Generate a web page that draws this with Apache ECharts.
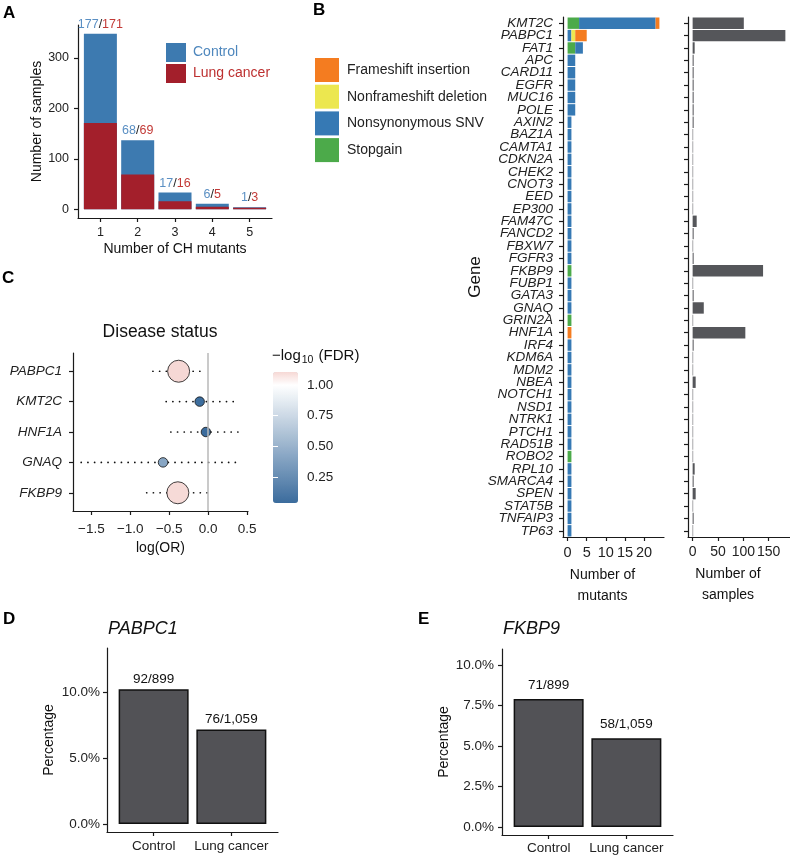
<!DOCTYPE html>
<html>
<head>
<meta charset="utf-8">
<script src="https://cdn.jsdelivr.net/npm/echarts@6/dist/echarts.min.js"></script>
<style>
html, body { margin: 0; padding: 0; background: #fff; }
#container { width: 790px; height: 857px; }
</style>
</head>
<body>
<div id="container"></div>
<script>
// ---- A: samples by number of CH mutants
var mutantCounts = [1, 2, 3, 4, 5];
var controlSamples = [177, 68, 17, 6, 1];
var cancerSamples = [171, 69, 16, 5, 3];
var aTicks = [0, 100, 200, 300];

// ---- B: mutants per gene (by type) and samples per gene
var genes = ['KMT2C', 'PABPC1', 'FAT1', 'APC', 'CARD11', 'EGFR', 'MUC16', 'POLE', 'AXIN2', 'BAZ1A',
    'CAMTA1', 'CDKN2A', 'CHEK2', 'CNOT3', 'EED', 'EP300', 'FAM47C', 'FANCD2', 'FBXW7', 'FGFR3',
    'FKBP9', 'FUBP1', 'GATA3', 'GNAQ', 'GRIN2A', 'HNF1A', 'IRF4', 'KDM6A', 'MDM2', 'NBEA',
    'NOTCH1', 'NSD1', 'NTRK1', 'PTCH1', 'RAD51B', 'ROBO2', 'RPL10', 'SMARCA4', 'SPEN', 'STAT5B',
    'TNFAIP3', 'TP63'];
var stopgain = [3, 0, 2, 0, 0, 0, 0, 0, 0, 0,
    0, 0, 0, 0, 0, 0, 0, 0, 0, 0,
    1, 0, 0, 0, 1, 0, 0, 0, 0, 0,
    0, 0, 0, 0, 0, 1, 0, 0, 0, 0,
    0, 0];
var nonsynSNV = [20, 1, 2, 2, 2, 2, 2, 2, 1, 1,
    1, 1, 1, 1, 1, 1, 1, 1, 1, 1,
    0, 1, 1, 1, 0, 0, 1, 1, 1, 1,
    1, 1, 1, 1, 1, 0, 1, 1, 1, 1,
    1, 1];
var nonframeDel = [0, 1, 0, 0, 0, 0, 0, 0, 0, 0,
    0, 0, 0, 0, 0, 0, 0, 0, 0, 0,
    0, 0, 0, 0, 0, 0, 0, 0, 0, 0,
    0, 0, 0, 0, 0, 0, 0, 0, 0, 0,
    0, 0];
var frameIns = [1, 3, 0, 0, 0, 0, 0, 0, 0, 0,
    0, 0, 0, 0, 0, 0, 0, 0, 0, 0,
    0, 0, 0, 0, 0, 1, 0, 0, 0, 0,
    0, 0, 0, 0, 0, 0, 0, 0, 0, 0,
    0, 0];
var geneSamples = [101, 183, 4, 2, 2, 2, 2, 2, 2, 1,
    1, 1, 1, 1, 1, 1, 8, 2, 1, 2,
    139, 1, 2, 22, 1, 104, 2, 1, 1, 6,
    1, 1, 1, 1, 1, 1, 4, 2, 6, 1,
    2, 1];
var mutantTicks = [0, 5, 10, 15, 20];
var sampleTicks = [0, 50, 100, 150];

// ---- C: disease status association
var orGenes = ['PABPC1', 'KMT2C', 'HNF1A', 'GNAQ', 'FKBP9'];
var logOR = [-0.38, -0.11, -0.03, -0.58, -0.39];
var ciLow = [-0.71, -0.54, -0.48, -1.63, -0.79];
var ciHigh = [-0.03, 0.355, 0.41, 0.42, 0.01];
var negLogFdr = [1.105, 0.05, 0.04, 0.42, 1.1];
var orTicks = [-1.5, -1, -0.5, 0, 0.5];
var fdrTicks = [0.25, 0.5, 0.75, 1];

// ---- D / E: carrier percentage
var groups = ['Control', 'Lung cancer'];
var groupTotals = [899, 1059];
var pabpc1Carriers = [92, 76];
var fkbp9Carriers = [71, 58];
var pabpc1P = '0.016';
var fkbp9P = '0.031';
var dTicks = [0, 5, 10];
var eTicks = [0, 2.5, 5, 7.5, 10];

var FONT = '"Liberation Sans", Arial, sans-serif';
var INK = '#1a1a1a';

var dom = document.getElementById('container');
var myChart = echarts.init(dom, null, { renderer: 'canvas' });

function axis(type, grid, min, max, ticks, labelMargin, fmt) {
    var a = {
        type: type,
        gridIndex: grid,
        splitLine: { show: false },
        axisLine: { show: true, onZero: false, lineStyle: { color: INK, width: 1.2 } },
        axisTick: { show: true, length: 4, lineStyle: { color: INK, width: 1.2 } },
        axisLabel: { margin: labelMargin, fontSize: 13.5, color: '#222', fontFamily: FONT },
        nameLocation: 'middle',
        nameTextStyle: { fontSize: 14, color: '#111', fontFamily: FONT }
    };
    if (type === 'value') {
        a.min = min;
        a.max = max;
        a.axisTick.customValues = ticks;
        a.axisLabel.customValues = ticks;
    }
    if (fmt) a.axisLabel.formatter = fmt;
    return a;
}

function pct(carriers) {
    return carriers.map(function (c, i) { return [i + 1, c / groupTotals[i] * 100]; });
}
function fracLabel(carriers) {
    return function (p) {
        return carriers[p.dataIndex] + '/' + groupTotals[p.dataIndex].toLocaleString('en-US');
    };
}
function pctFmt(v) { return v.toFixed(1) + '%'; }
function groupFmt(v) { return groups[v - 1] || ''; }
function maxPct(carriers) {
    return Math.max.apply(null, pct(carriers).map(function (d) { return d[1]; }));
}

var panelLetter = { fontSize: 17, fontWeight: 'bold', color: '#000', fontFamily: FONT };

var xAxes = [];
var yAxes = [];

// A
var xa = axis('value', 0, 0.4, 5.6, mutantCounts, 8);
xa.axisLabel.fontSize = 12.5;
xa.name = 'Number of CH mutants';
xa.nameGap = 24;
xAxes.push(xa);
var ya = axis('value', 0, -17.4, 365.4, aTicks, 9);
ya.axisLabel.fontSize = 12.5;
ya.name = 'Number of samples';
ya.nameGap = 28;
yAxes.push(ya);

// B left
var xb1 = axis('value', 1, -1.2, 25.2, mutantTicks, 8);
xb1.axisLabel.fontSize = 14.5;
xb1.name = 'Number of\nmutants';
xb1.nameGap = 27;
xb1.nameTextStyle.lineHeight = 21;
xb1.nameTextStyle.padding = [0, 22, 0, 0];
xAxes.push(xb1);
var yb1 = axis('category', 1);
yb1.data = genes;
yb1.inverse = true;
yb1.axisTick.alignWithLabel = true;
yb1.axisTick.interval = 0;
yb1.axisLabel.interval = 0;
yb1.axisLabel.fontStyle = 'italic';
yb1.axisLabel.margin = 10;
yb1.name = 'Gene';
yb1.nameGap = 75;
yb1.nameTextStyle.fontSize = 17;
yAxes.push(yb1);

// B right
var xb2 = axis('value', 2, -9.15, 192.15, sampleTicks, 8);
xb2.axisLabel.fontSize = 14;
xb2.name = 'Number of\nsamples';
xb2.nameGap = 27;
xb2.nameTextStyle.lineHeight = 21;
xb2.nameTextStyle.padding = [0, 22, 0, 0];
xAxes.push(xb2);
var yb2 = axis('category', 2);
yb2.data = genes;
yb2.inverse = true;
yb2.axisTick.alignWithLabel = true;
yb2.axisTick.interval = 0;
yb2.axisLabel.show = false;
yAxes.push(yb2);

// C
var xc = axis('value', 3, -1.735, 0.51, orTicks, 11, function (v) {
    return (v < 0 ? '\u2212' : '') + Math.abs(v).toFixed(1);
});
xc.name = 'log(OR)';
xc.nameGap = 30;
xAxes.push(xc);
var yc = axis('value', 3, 0.4, 5.6, [1, 2, 3, 4, 5], 11, function (v) { return orGenes[v - 1] || ''; });
yc.inverse = true;
yc.axisLabel.fontStyle = 'italic';
yAxes.push(yc);

// colour bar axis (grid 4)
xAxes.push({ type: 'value', gridIndex: 4, min: 0, max: 1, show: false });
yAxes.push({
    type: 'value', gridIndex: 4, position: 'right', min: 0.04, max: 1.105, z: 10,
    splitLine: { show: false },
    axisLine: { show: false },
    axisTick: { show: true, inside: true, length: 5, customValues: fdrTicks, lineStyle: { color: '#fff', width: 1 } },
    axisLabel: { customValues: fdrTicks, margin: 9, fontSize: 13.5, color: '#222', fontFamily: FONT,
        formatter: function (v) { return v.toFixed(2); } }
});
yAxes.push({
    type: 'value', gridIndex: 4, position: 'left', min: 0.04, max: 1.105, z: 10,
    splitLine: { show: false },
    axisLine: { show: false },
    axisTick: { show: true, inside: true, length: 5, customValues: fdrTicks, lineStyle: { color: '#fff', width: 1 } },
    axisLabel: { show: false }
});

// D
var xd = axis('value', 5, 0.4, 2.6, [1, 2], 7, groupFmt);
xAxes.push(xd);
var yd = axis('value', 5, -0.607, 13.36, dTicks, 7, pctFmt);
yd.name = 'Percentage';
yd.nameGap = 51;
yAxes.push(yd);

// E
var xe = axis('value', 6, 0.4, 2.6, [1, 2], 6, groupFmt);
xAxes.push(xe);
var ye = axis('value', 6, -0.5, 10.98, eTicks, 8, pctFmt);
ye.name = 'Percentage';
ye.nameGap = 51;
yAxes.push(ye);

var mutTypes = [
    { name: 'Stopgain', data: stopgain, color: '#4caa4a' },
    { name: 'Nonsynonymous SNV', data: nonsynSNV, color: '#3679b4' },
    { name: 'Nonframeshift deletion', data: nonframeDel, color: '#ece74f' },
    { name: 'Frameshift insertion', data: frameIns, color: '#f47c20' }
];

var series = [];

// A bars: total (control on top) with lung cancer overlaid at the bottom
series.push({
    name: 'Control', type: 'bar', xAxisIndex: 0, yAxisIndex: 0,
    barWidth: 33,
    itemStyle: { color: '#3d7ab0' },
    data: mutantCounts.map(function (m, i) { return [m, controlSamples[i] + cancerSamples[i]]; }),
    label: {
        show: true, position: 'top', distance: 3, fontSize: 12.5, fontFamily: FONT,
        formatter: function (p) {
            return '{c|' + controlSamples[p.dataIndex] + '}{s|/}{r|' + cancerSamples[p.dataIndex] + '}';
        },
        rich: {
            c: { color: '#5a8fc3', fontSize: 12.5, fontFamily: FONT },
            s: { color: '#222', fontSize: 12.5, fontFamily: FONT },
            r: { color: '#c33a37', fontSize: 12.5, fontFamily: FONT }
        }
    }
});
series.push({
    name: 'Lung cancer', type: 'bar', xAxisIndex: 0, yAxisIndex: 0,
    barWidth: 33, barGap: '-100%',
    itemStyle: { color: '#a31f2b' },
    data: mutantCounts.map(function (m, i) { return [m, cancerSamples[i]]; })
});

// B left: stacked mutant types
mutTypes.forEach(function (t) {
    series.push({
        name: t.name, type: 'bar', stack: 'mut', xAxisIndex: 1, yAxisIndex: 1,
        barCategoryGap: '8%',
        itemStyle: { color: t.color },
        data: t.data
    });
});

// B right: samples
series.push({
    name: 'samples', type: 'bar', xAxisIndex: 2, yAxisIndex: 2,
    barCategoryGap: '8%',
    itemStyle: { color: '#55565a' },
    data: geneSamples
});

// C: confidence intervals as dotted lines
series.push({
    name: 'ci', type: 'custom', xAxisIndex: 3, yAxisIndex: 3,
    data: orGenes.map(function (g, i) { return [i + 1, ciLow[i], ciHigh[i]]; }),
    encode: { x: [1, 2], y: 0 },
    renderItem: function (params, api) {
        var p1 = api.coord([api.value(1), api.value(0)]);
        var p2 = api.coord([api.value(2), api.value(0)]);
        return {
            type: 'line',
            shape: { x1: p1[0], y1: p1[1], x2: p2[0], y2: p2[1] },
            style: { stroke: '#111', lineWidth: 1.7, lineDash: [0.1, 6.6], lineCap: 'round' }
        };
    },
    markLine: {
        silent: true, symbol: 'none', label: { show: false },
        lineStyle: { color: '#b8b8b8', width: 1.5, type: 'solid' },
        data: [{ xAxis: 0 }]
    }
});
var scatterIndex = series.length;
series.push({
    name: 'or', type: 'scatter', xAxisIndex: 3, yAxisIndex: 3,
    data: orGenes.map(function (g, i) { return [logOR[i], i + 1, negLogFdr[i]]; }),
    symbolSize: function (v) { return v[2] > 1 ? 22 : 9.5; },
    itemStyle: { borderColor: '#111', borderWidth: 0.8, opacity: 1 }
});

// D and E
function pctPanel(axisIdx, carriers, pText, labelDist) {
    series.push({
        name: 'pct' + axisIdx, type: 'bar', xAxisIndex: axisIdx, yAxisIndex: axisIdx + 1,
        barWidth: 70,
        itemStyle: { color: '#525256', borderColor: '#111', borderWidth: 1.5 },
        data: pct(carriers),
        label: {
            show: true, position: 'top', distance: labelDist, fontSize: 13.5, color: '#111', fontFamily: FONT,
            formatter: fracLabel(carriers)
        }
    });
    series.push({
        name: 'p' + axisIdx, type: 'scatter', xAxisIndex: axisIdx, yAxisIndex: axisIdx + 1,
        symbolSize: 1, itemStyle: { opacity: 0 },
        data: [[1.5, maxPct(carriers) + 2.37]],
        label: {
            show: true, position: 'inside', color: '#111',
            formatter: '{i|P} = ' + pText,
            fontSize: 13.5, fontFamily: FONT,
            rich: { i: { fontStyle: 'italic', fontSize: 13.5, fontFamily: FONT, color: '#111' } }
        }
    });
}
pctPanel(5, pabpc1Carriers, pabpc1P, 3);
pctPanel(6, fkbp9Carriers, fkbp9P, 6.5);

var option = {
    animation: false,
    backgroundColor: '#fff',
    textStyle: { fontFamily: FONT },
    title: [
        { text: 'A', left: 3, top: 5, padding: 0, textStyle: panelLetter },
        { text: 'B', left: 313, top: 2, padding: 0, textStyle: panelLetter },
        { text: 'C', left: 2, top: 270, padding: 0, textStyle: panelLetter },
        { text: 'D', left: 3, top: 611, padding: 0, textStyle: panelLetter },
        { text: 'E', left: 418, top: 611, padding: 0, textStyle: panelLetter },
        { text: 'Disease status', left: 160, top: 323, textAlign: 'center', padding: 0,
            textStyle: { fontSize: 17.5, fontWeight: 'normal', color: '#111', fontFamily: FONT } },
        { text: 'PABPC1', left: 108, top: 620, padding: 0,
            textStyle: { fontSize: 18, fontWeight: 'normal', fontStyle: 'italic', color: '#111', fontFamily: FONT } },
        { text: 'FKBP9', left: 503, top: 620, padding: 0,
            textStyle: { fontSize: 18, fontWeight: 'normal', fontStyle: 'italic', color: '#111', fontFamily: FONT } },
        { text: '{a|\u2212log}{s|10}{a| (FDR)}', left: 272, top: 346, padding: 0,
            textStyle: {
                fontWeight: 'normal', fontSize: 15, color: '#111', fontFamily: FONT,
                rich: {
                    a: { fontSize: 15, color: '#111', fontFamily: FONT, lineHeight: 20 },
                    s: { fontSize: 10.5, color: '#111', fontFamily: FONT, padding: [9, 1, 0, 1] }
                }
            } }
    ],
    legend: [
        {
            orient: 'vertical', left: 166, top: 43, padding: 0,
            itemWidth: 20, itemHeight: 19, itemGap: 2, icon: 'rect', selectedMode: false,
            textStyle: { fontSize: 14, fontFamily: FONT, padding: [0, 0, 0, 2] },
            data: [
                { name: 'Control', textStyle: { color: '#4e87bd' } },
                { name: 'Lung cancer', textStyle: { color: '#bd3030' } }
            ]
        },
        {
            orient: 'vertical', left: 315, top: 58, padding: 0,
            itemWidth: 24, itemHeight: 24, itemGap: 2.7, icon: 'rect', selectedMode: false,
            textStyle: { fontSize: 14, color: '#222', fontFamily: FONT, padding: [0, 0, 0, 3] },
            data: ['Frameshift insertion', 'Nonframeshift deletion', 'Nonsynonymous SNV', 'Stopgain']
        }
    ],
    visualMap: {
        type: 'continuous', seriesIndex: scatterIndex, dimension: 2,
        min: 0.04, max: 1.105, calculable: false, hoverLink: false,
        left: 273, top: 372, itemWidth: 25, itemHeight: 131, padding: 0,
        text: null,
        inRange: {
            color: ['#3b6c9d', '#517ca8', '#678db3', '#7c9dbe', '#92adc9', '#a8bed3',
                '#becede', '#d3dee9', '#e9eff4', '#ffffff', '#f6d8d5']
        }
    },
    grid: [
        { left: 78, top: 25, width: 194, height: 193 },
        { left: 563, top: 17, width: 101, height: 520 },
        { left: 688, top: 17, width: 102, height: 520 },
        { left: 73, top: 353, width: 175, height: 158 },
        { left: 273, top: 372, width: 25, height: 131 },
        { left: 107, top: 648, width: 171, height: 184 },
        { left: 502, top: 649, width: 171, height: 186 }
    ],
    xAxis: xAxes,
    yAxis: yAxes,
    series: series
};

if (option && typeof option === 'object') {
    myChart.setOption(option, false);
}
</script>
</body>
</html>
